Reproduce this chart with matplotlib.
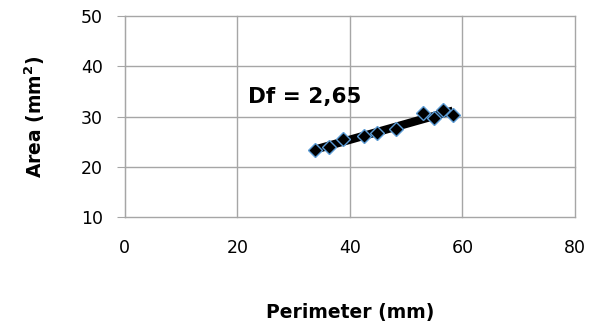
import matplotlib.pyplot as plt
import numpy as np

# data
perimeter = [33.8, 36.3, 38.8, 42.5, 44.8, 48.2, 53.0, 54.9, 56.5, 58.3]
area = [23.4, 24.0, 25.5, 26.1, 26.7, 27.5, 30.7, 29.7, 31.3, 30.3]
x_ticks = [0, 20, 40, 60, 80]
y_ticks = [10, 20, 30, 40, 50]

GRID = '#A6A6A6'

fig = plt.figure(figsize=(5.89, 3.29), dpi=100)
ax = fig.add_axes([0.212, 0.340, 0.764, 0.611])

# trend line
coef = np.polyfit(perimeter, area, 1)
xs = np.array([min(perimeter), max(perimeter)])
ax.plot(xs, np.polyval(coef, xs), color='black', lw=6, zorder=3, solid_capstyle='butt')

ax.plot(perimeter, area, ls='none', marker='D', ms=7.5, mfc='black',
        mec='#5B9BD5', mew=1.0, zorder=4)

ax.set_xlim(0, 80)
ax.set_ylim(10, 50)
ax.set_xticks(x_ticks)
ax.set_yticks(y_ticks)
ax.grid(True, color=GRID, lw=1)
for gl in ax.get_xgridlines() + ax.get_ygridlines():
    gl.set_clip_on(False)
ax.set_axisbelow(True)

for s in ['top', 'right', 'bottom']:
    ax.spines[s].set_visible(False)
ax.spines['left'].set_color(GRID)
ax.tick_params(axis='y', length=6, color=GRID, labelsize=12.5, pad=10)
ax.tick_params(axis='x', length=0, labelsize=12.5, pad=16)

ax.text(21.9, 33.9, 'Df = 2,65', fontsize=15.5, fontweight='bold', ha='left', va='center')

ax.set_xlabel('Perimeter (mm)', fontsize=13.5, fontweight='bold', labelpad=33)
ax.set_ylabel('Area (mm$^{\\mathbf{2}}$)', fontsize=13.5, fontweight='bold', labelpad=24)

fig.savefig('out.png', dpi=100)
